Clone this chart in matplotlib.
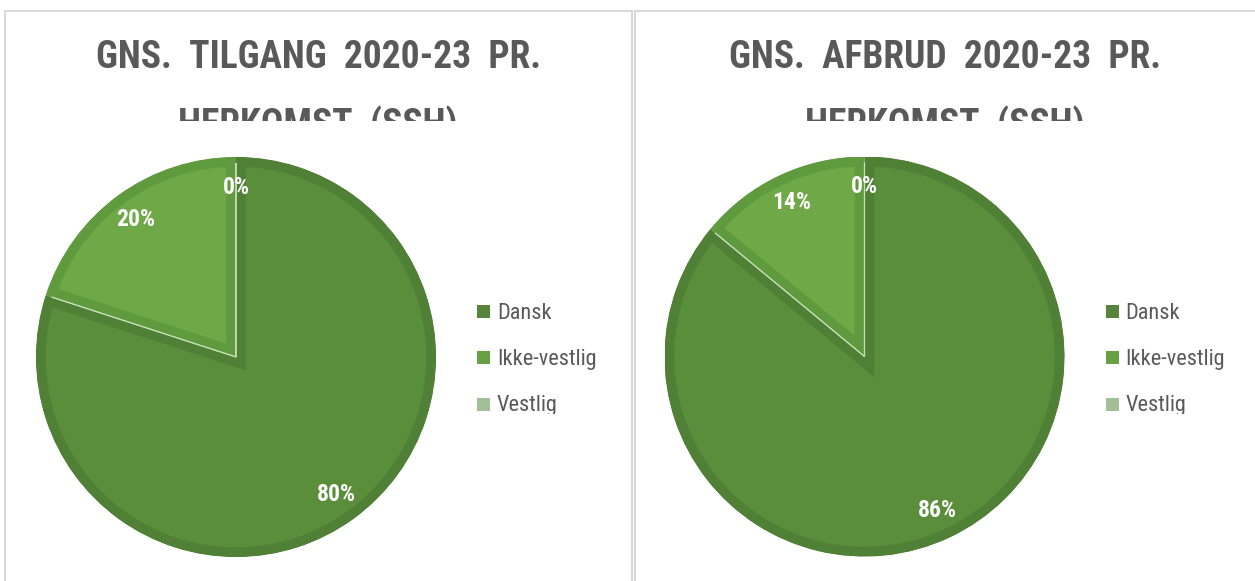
import matplotlib
matplotlib.use("Agg")
import matplotlib.pyplot as plt
from matplotlib import font_manager
from matplotlib.patches import Rectangle, Circle

# ---------------- data ----------------
categories = ["Dansk", "Ikke-vestlig", "Vestlig"]
tilgang_values = [80, 20, 0]
afbrud_values = [86, 14, 0]
title_left_l1 = "GNS.  TILGANG  2020-23  PR."
title_right_l1 = "GNS.  AFBRUD  2020-23  PR."
title_l2 = "HERKOMST  (SSH)"

# ---------------- style ----------------
face_colors = ["#5A8E3A", "#6FA846", "#A8C79A"]
edge_colors = ["#4F8035", "#5F9A3E", "#98B98A"]
legend_colors = ["#56843A", "#68A043", "#A3BF97"]

names = {f.name for f in font_manager.fontManager.ttflist}
FONT = "DejaVu Sans"
for cand in ["Liberation Sans Narrow", "Roboto Condensed", "Open Sans Condensed", "Lato", "Roboto"]:
    if cand in names:
        FONT = cand
        break
plt.rcParams["font.family"] = [FONT, "DejaVu Sans"]

W, H = 1255, 581
fig = plt.figure(figsize=(W / 100, H / 100), dpi=100)
fig.patch.set_facecolor("white")


def fx(x):
    return x / W


def fy(y):
    return 1 - y / H


def px_axes(x0, y0, x1, y1):
    ax = fig.add_axes([fx(x0), fy(y1), (x1 - x0) / W, (y1 - y0) / H])
    ax.set_axis_off()
    return ax


# panel borders
for (x0, x1) in [(5, 631.5), (635, 1262)]:
    fig.add_artist(Rectangle((fx(x0), fy(600)), (x1 - x0) / W, (600 - 11) / H,
                             transform=fig.transFigure, facecolor="none",
                             edgecolor="#D9D9D9", linewidth=1.5))


def draw_panel(x0, x1, cx, cy, title1, values):
    # title, clipped at y=121 like the reference
    tax = px_axes(x0 + 2, 13, x1 - 2, 121)
    tax.set_xlim(0, 1)
    tax.set_ylim(121, 13)
    tax.text(0.5, 57.5, title1, ha="center", va="center", fontsize=27,
             fontweight="bold", color="#595959", clip_on=True)
    tax.text(0.5, 125, title_l2, ha="center", va="center", fontsize=27,
             fontweight="bold", color="#595959", clip_on=True)

    # pie
    r = 200
    ax = px_axes(cx - r, cy - r, cx + r, cy + r)
    wedges, _, autotexts = ax.pie(
        values, colors=face_colors, startangle=90, counterclock=False,
        autopct=lambda p: f"{p:.0f}%", pctdistance=0.85, radius=1,
        wedgeprops=dict(linewidth=14, edgecolor="none"),
        textprops=dict(color="white", fontsize=17, fontweight="bold"))
    for w, ec in zip(wedges, edge_colors):
        w.set_edgecolor(ec)
        w.set_clip_on(True)
        w.set_clip_path(w)
    # thin light separation lines between slices
    seps, _ = ax.pie(values, startangle=90, counterclock=False, radius=1,
                     wedgeprops=dict(facecolor="none", edgecolor="#C8DDB8",
                                     linewidth=0.8))
    clip_c = Circle((0, 0), 0.97, transform=ax.transData)
    for s in seps:
        s.set_clip_on(True)
        s.set_clip_path(clip_c)
    for t in autotexts:
        t.set_zorder(5)
    ax.set_xlim(-1, 1)
    ax.set_ylim(-1, 1)

    # legend (clipped at bottom like the reference)
    lx = cx + 241
    lax = px_axes(lx - 5, 290, x1 - 2, 414)
    lax.set_xlim(lx - 5, x1 - 2)
    lax.set_ylim(414, 290)
    for i, (cat, col) in enumerate(zip(categories, legend_colors)):
        yc = 313 + i * 46.5
        lax.add_patch(Rectangle((lx, yc - 8.5), 13, 13, facecolor=col,
                                edgecolor="none", clip_on=True))
        lax.text(lx + 20, yc, cat, ha="left", va="center", fontsize=16,
                 color="#595959", clip_on=True)


draw_panel(5, 631.5, 236, 357, title_left_l1, tilgang_values)
draw_panel(635, 1255, 864.5, 356.5, title_right_l1, afbrud_values)

fig.savefig("out.png", dpi=100, facecolor="white")
